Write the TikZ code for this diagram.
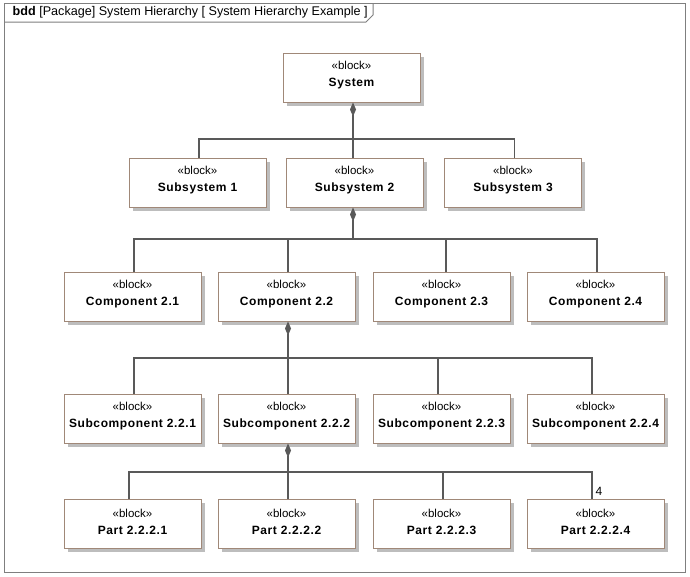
\documentclass[tikz,border=0pt]{standalone}
\usepackage{fontspec}
\setmainfont{Liberation Sans}
\usetikzlibrary{arrows.meta}
\definecolor{linec}{HTML}{595959}
\definecolor{boxc}{HTML}{A08878}
\definecolor{framec}{HTML}{7F7F7F}
\definecolor{shadc}{HTML}{BDBDBD}
\tikzset{
  blk/.style={draw=boxc, line width=1pt, fill=white, minimum width=137pt, minimum height=49pt, inner sep=0pt},
  shadowbox/.style={fill=shadc},
  blktxt/.style={align=center, inner sep=0pt, font=\fontsize{11.5}{17}\selectfont},
  link/.style={draw=linec, line width=1.1pt},
  comp/.style={link, {Diamond[length=14pt,width=6pt]}-},
  frameline/.style={draw=framec, line width=1pt}
}
\newcommand\blockat[3]{%
  \coordinate (#1c) at (#2);
  \fill[shadowbox] ([shift={(-65pt,-28pt)}]#1c) rectangle ([shift={(72pt,21pt)}]#1c);
  \node[blk] (#1) at (#1c) {};
  \node[blktxt] (#1t) at ([yshift=2.5pt]#1.center) {«block»\\{\bfseries\addfontfeatures{LetterSpace=5}\fontsize{12}{17}\selectfont #3}};}
\begin{document}
\begin{tikzpicture}[x=1pt,y=-1pt]
\useasboundingbox (0,0) rectangle (690,576);
\fill[white] (0,0) rectangle (690,576);
% frame
\draw[frameline] (4,3) rectangle (685,572);
\draw[frameline] (4,22) -- (366,22) -- (373,15) -- (373,3);
\node[anchor=west, inner sep=0pt, font=\fontsize{12.6}{14}\selectfont] (title) at (12.5,12.5)
  {\textbf{bdd} [Package] System Hierarchy [ System Hierarchy Example ]};
% blocks
\blockat{sys}{351.5,77.5}{System}
\blockat{sub1}{197.5,182.5}{Subsystem 1}
\blockat{sub2}{354.5,182.5}{Subsystem 2}
\blockat{sub3}{513,182.5}{Subsystem 3}
\blockat{c1}{132.5,296.5}{Component 2.1}
\blockat{c2}{286.5,296.5}{Component 2.2}
\blockat{c3}{441.5,296.5}{Component 2.3}
\blockat{c4}{595.5,296.5}{Component 2.4}
\blockat{s1}{132.5,418.5}{Subcomponent 2.2.1}
\blockat{s2}{286.5,418.5}{Subcomponent 2.2.2}
\blockat{s3}{441.5,418.5}{Subcomponent 2.2.3}
\blockat{s4}{595.5,418.5}{Subcomponent 2.2.4}
\blockat{p1}{132.5,524}{Part 2.2.2.1}
\blockat{p2}{286.5,524}{Part 2.2.2.2}
\blockat{p3}{441.5,524}{Part 2.2.2.3}
\blockat{p4}{595.5,524}{Part 2.2.2.4}
% level 1
\coordinate (j1) at (353,139);
\draw[link] ([xshift=1.5pt]sub1.north) |- (j1);
\draw[link] ([xshift=1.5pt]sub3.north) |- (j1);
\draw[link] (sub2.north -| j1) -- (j1);
\draw[comp] (sys.south -| j1) -- (j1);
% level 2
\coordinate (j2) at (353,239);
\draw[link] ([xshift=1.5pt]c1.north) |- (j2);
\draw[link] ([xshift=1.5pt]c2.north) |- (j2);
\draw[link] ([xshift=4.5pt]c3.north) |- (j2);
\draw[link] ([xshift=1.5pt]c4.north) |- (j2);
\draw[comp] (sub2.south -| j2) -- (j2);
% level 3
\coordinate (j3) at (288,358);
\draw[link] ([xshift=1.5pt]s1.north) |- (j3);
\draw[link] ([xshift=-3.5pt]s3.north) |- (j3);
\draw[link] ([xshift=-3.5pt]s4.north) |- (j3);
\draw[comp] (c2.south -| j3) -- (s2.north -| j3);
% level 4
\coordinate (j4) at (288,472);
\draw[link] ([xshift=-3.5pt]p1.north) |- (j4);
\draw[link] ([xshift=1.5pt]p3.north) |- (j4);
\draw[link] ([xshift=-3.5pt]p4.north) |- (j4);
\draw[comp] (s2.south -| j4) -- (p2.north -| j4);
\node[inner sep=0pt, font=\fontsize{12}{13}\selectfont] (m4) at (599,491) {4};
\end{tikzpicture}
\end{document}
